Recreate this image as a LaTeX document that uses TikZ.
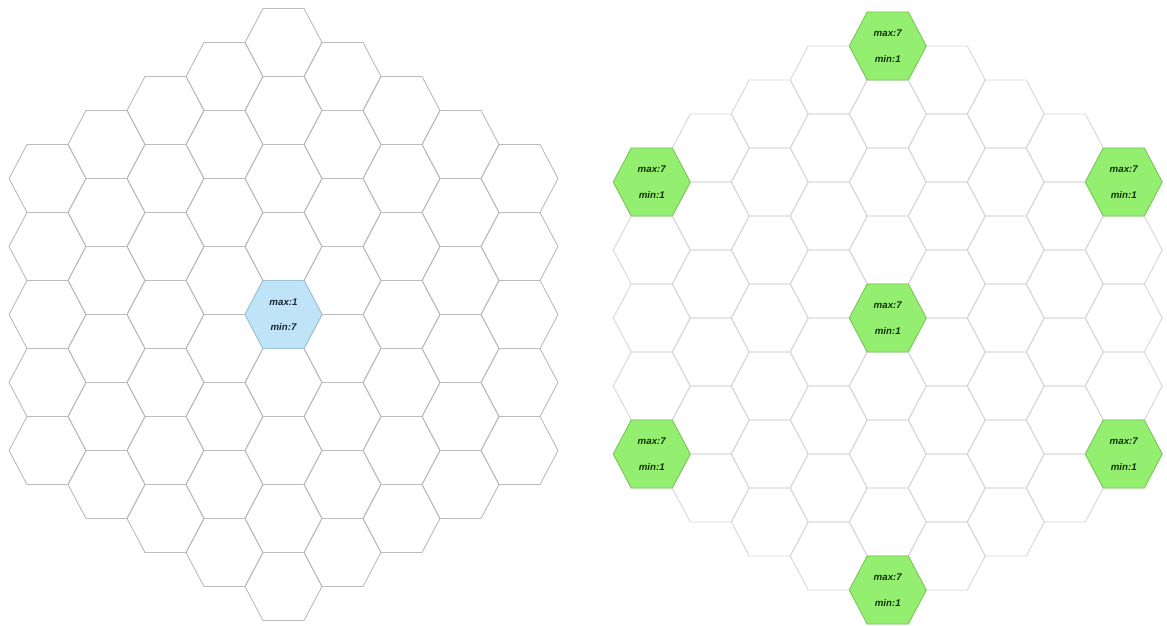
\documentclass[tikz,border=0pt]{standalone}
\usepackage{fontspec}
\setmainfont{Liberation Sans}
\usepackage{tikz}
\usetikzlibrary{calc}
\definecolor{gridGray}{HTML}{BBBBBB}
\definecolor{gridLight}{HTML}{D6D6D6}
\definecolor{cellBlue}{HTML}{BFE4F8}
\definecolor{cellBlueEdge}{HTML}{9DC4DA}
\definecolor{cellGreen}{HTML}{94EE70}
\definecolor{cellGreenEdge}{HTML}{79CC59}
\definecolor{inkBlue}{HTML}{1B2636}
\definecolor{inkGreen}{HTML}{14300C}

\begin{document}
\begin{tikzpicture}[x=1pt,y=-1pt,line join=round,
  hexcell/.pic={\path[pic actions] (-20.5,-34) -- (20.5,-34) -- (38.5,0) -- (20.5,34) -- (-20.5,34) -- (-38.5,0) -- cycle;},
  cell/.style={draw=gridGray,line width=0.9pt},
  lightcell/.style={draw=gridLight,line width=0.9pt},
  bluecell/.style={draw=cellBlueEdge,fill=cellBlue,line width=0.9pt},
  greencell/.style={draw=cellGreenEdge,fill=cellGreen,line width=0.9pt},
  lbl/.style={font=\fontsize{9.7}{11}\selectfont\bfseries\itshape,inner sep=0pt}]
\useasboundingbox (0,0) rectangle (1167,625);
\def\dx{59}
\def\dy{34}
% --- LEFT grid ---
\begin{scope}[shift={(283.5,314.5)}]
  \foreach \c in {-4,...,4} {
    \pgfmathtruncatemacro\n{8-abs(\c)}
    \foreach \r in {0,...,\n} {
      \pic[cell] at (\c*\dx,{(2*\r-\n)*\dy}) {hexcell};
    }
  }
  \pic[bluecell] at (0,0) {hexcell};
  \node[lbl,text=inkBlue] (Lmax) at (0,-12.5) {max:1};
  \node[lbl,text=inkBlue] (Lmin) at (0,12.5) {min:7};
\end{scope}
% --- RIGHT grid ---
\begin{scope}[shift={(887.75,318)}]
  \foreach \c in {-4,...,4} {
    \pgfmathtruncatemacro\n{8-abs(\c)}
    \foreach \r in {0,...,\n} {
      \pic[lightcell] at (\c*\dx,{(2*\r-\n)*\dy}) {hexcell};
    }
  }
  \foreach \c/\k/\m in {0/0/C,0/-8/N,0/8/S,-4/-4/NW,-4/4/SW,4/-4/NE,4/4/SE} {
    \pic[greencell] at (\c*\dx,\k*\dy) {hexcell};
    \node[lbl,text=inkGreen] (max\m) at (\c*\dx,\k*\dy-12.5) {max:7};
    \node[lbl,text=inkGreen] (min\m) at (\c*\dx,\k*\dy+12.5) {min:1};
  }
\end{scope}
\end{tikzpicture}
\end{document}
